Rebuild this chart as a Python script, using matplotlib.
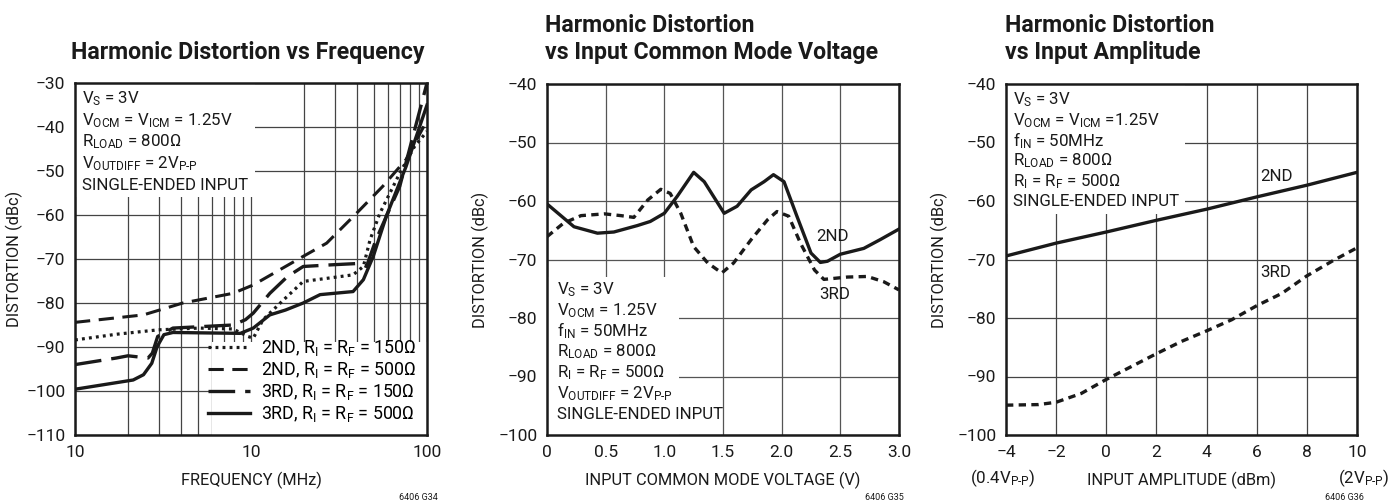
import matplotlib
matplotlib.use('Agg')
import matplotlib.pyplot as plt
from matplotlib.patches import Rectangle
from matplotlib.lines import Line2D

plt.rcParams['font.family'] = ['Roboto', 'DejaVu Sans']
plt.rcParams['mathtext.fontset'] = 'custom'
plt.rcParams['mathtext.rm'] = 'Roboto'
plt.rcParams['mathtext.it'] = 'Roboto'
plt.rcParams['mathtext.bf'] = 'Roboto:bold'

# ---- chart 1: distortion vs frequency ----
f_2nd150 = [1, 1.72, 2.97, 5.1, 7.9, 9.6, 10.3, 11.7, 15.3, 19.8, 26.9, 38, 43.5, 47.5, 54, 70, 85, 100]
d_2nd150 = [-88.4, -87.1, -86.1, -85.7, -85.9, -87.6, -88, -83.8, -79.3, -75.1, -74.4, -73.6, -71.7, -65.6, -59.6, -50.5, -44.4, -41]
f_2nd500 = [1, 2.45, 4.1, 7.9, 10.3, 19.8, 26.9, 39.8, 56, 76, 100]
d_2nd500 = [-84.4, -82.7, -80, -77.8, -75.9, -69.4, -66.4, -59.6, -53.5, -47.4, -38.5]
f_3rd150 = [1, 1.72, 2.0, 2.6, 2.75, 2.95, 3.6, 7.9, 9.3, 10.3, 12.8, 16.1, 19.8, 29.4, 41.6, 45.3, 51.3, 70, 100]
d_3rd150 = [-94, -92.5, -92, -92.5, -91.4, -87.6, -85.7, -85, -83.8, -82.3, -77.8, -74, -71.7, -71.3, -71, -71.7, -65.6, -53.5, -30]
f_3rd500 = [1, 2.14, 2.45, 2.73, 2.93, 3.2, 3.6, 8.7, 10.3, 12.8, 15.7, 19.8, 24.7, 38, 43.5, 49.5, 58.7, 76, 100]
d_3rd500 = [-99.6, -97.5, -96.3, -93.7, -89.9, -87.2, -86.7, -86.9, -85.7, -82.7, -81.6, -80, -78.1, -77.4, -74.7, -69.4, -60.3, -49, -35]

# ---- chart 2: distortion vs input common mode voltage ----
v_2nd = [0, 0.23, 0.43, 0.57, 0.77, 0.88, 1.0, 1.11, 1.25, 1.34, 1.51, 1.62, 1.74, 1.85, 1.93, 2.02, 2.13, 2.25, 2.33, 2.39, 2.5, 2.7, 2.84, 3.0]
d2_2nd = [-60.5, -64.4, -65.5, -65.3, -64.2, -63.5, -62.1, -59.2, -55.1, -56.7, -62.1, -60.9, -58.1, -56.7, -55.5, -56.7, -62.6, -68.9, -70.5, -70.3, -69.1, -68.1, -66.6, -64.8]
v_3rd = [0, 0.14, 0.29, 0.49, 0.63, 0.74, 0.86, 0.97, 1.05, 1.14, 1.25, 1.37, 1.49, 1.59, 1.74, 1.88, 1.96, 2.06, 2.16, 2.28, 2.36, 2.56, 2.73, 2.87, 3.0]
d2_3rd = [-66.1, -63.8, -62.5, -62.2, -62.5, -62.8, -59.8, -58, -58.7, -62.1, -67.8, -70.6, -72.3, -70.6, -66.6, -63.2, -61.8, -62.6, -67.2, -71.8, -73.4, -73.0, -72.9, -73.8, -75.2]

# ---- chart 3: distortion vs input amplitude ----
a_2nd = [-4, -2, 0, 2, 4, 6, 8, 10]
d3_2nd = [-69.4, -67.2, -65.3, -63.3, -61.4, -59.3, -57.3, -55.1]
a_3rd = [-4, -2.7, -2, -1, 0, 1, 2, 3, 4, 5, 6, 7, 8, 9, 10]
d3_3rd = [-94.9, -94.8, -94.4, -92.9, -90.5, -88.3, -86.1, -84.0, -82.2, -80.3, -77.9, -75.8, -72.8, -70.3, -68.0]

note1 = [r'V$_{\mathrm{S}}$ = 3V',
         r'V$_{\mathrm{OCM}}$ = V$_{\mathrm{ICM}}$ = 1.25V',
         r'R$_{\mathrm{LOAD}}$ = 800Ω',
         r'V$_{\mathrm{OUTDIFF}}$ = 2V$_{\mathrm{P\text{-}P}}$',
         'SINGLE-ENDED INPUT']
note2 = [r'V$_{\mathrm{S}}$ = 3V',
         r'V$_{\mathrm{OCM}}$ = 1.25V',
         r'f$_{\mathrm{IN}}$ = 50MHz',
         r'R$_{\mathrm{LOAD}}$ = 800Ω',
         r'R$_{\mathrm{I}}$ = R$_{\mathrm{F}}$ = 500Ω',
         r'V$_{\mathrm{OUTDIFF}}$ = 2V$_{\mathrm{P\text{-}P}}$',
         'SINGLE-ENDED INPUT']
note3 = [r'V$_{\mathrm{S}}$ = 3V',
         r'V$_{\mathrm{OCM}}$ = V$_{\mathrm{ICM}}$ =1.25V',
         r'f$_{\mathrm{IN}}$ = 50MHz',
         r'R$_{\mathrm{LOAD}}$ = 800Ω',
         r'R$_{\mathrm{I}}$ = R$_{\mathrm{F}}$ = 500Ω',
         'SINGLE-ENDED INPUT']

fig = plt.figure(figsize=(13.93, 5.04), dpi=100)
W, H = 1393, 504

def make_ax(x0, x1, y0, y1):
    return fig.add_axes([x0 / W, 1 - y1 / H, (x1 - x0) / W, (y1 - y0) / H])

ax1 = make_ax(75, 427, 83, 435)
ax2 = make_ax(547, 899, 84, 435)
ax3 = make_ax(1006, 1357, 84, 435)

fs = 12.5    # tick labels
nfs = 12.2   # notes / legend
lfs = 11.8   # axis labels
ink = '#1a1a1a'
for ax, ylx in ((ax1, -0.148), (ax2, -0.165), (ax3, -0.165)):
    ax.set_axisbelow(True)
    ax.tick_params(which='both', length=0, labelsize=fs, pad=7, colors=ink)
    for s in ax.spines.values():
        s.set_linewidth(1.8)
        s.set_color(ink)
    ax.set_ylabel('DISTORTION (dBc)', fontsize=lfs, color=ink)
    ax.yaxis.set_label_coords(ylx, 0.5)

def block(ax, x0, x1, y0, y1):
    ax.add_patch(Rectangle((x0, y0), x1 - x0, y1 - y0, transform=ax.transAxes,
                           facecolor='white', edgecolor='none', zorder=1.5))

def notes(ax, lines, x, ytop, step):
    for i, t in enumerate(lines):
        ax.text(x, ytop - i * step, t, transform=ax.transAxes, fontsize=nfs,
                va='center', ha='left', zorder=4, color=ink)

# chart 1
ax1.set_xscale('log')
ax1.set_xlim(1, 100)
ax1.set_ylim(-110, -30)
ax1.set_xticks([1, 10, 100])
ax1.set_xticklabels(['10', '10', '100'])
ax1.set_xticks([2, 3, 4, 5, 6, 7, 8, 9, 20, 30, 40, 50, 60, 70, 80, 90], minor=True)
ax1.xaxis.set_minor_formatter(plt.NullFormatter())
ax1.set_yticks(range(-110, -29, 10))
ax1.grid(which='both', color='#444444', linewidth=0.9)
ax1.plot(f_2nd150, d_2nd150, color=ink, lw=2.3, ls=(0, (0.9, 1.3)), zorder=3)
ax1.plot(f_2nd500, d_2nd500, color=ink, lw=2.2, ls=(0, (5, 2.8)), zorder=3)
ax1.plot(f_3rd150, d_3rd150, color=ink, lw=2.4, ls=(0, (8, 3)), zorder=3)
ax1.plot(f_3rd500, d_3rd500, color=ink, lw=2.4, ls='-', zorder=3)
block(ax1, 0, 0.51, 0.676, 1)
block(ax1, 0.39, 1, 0, 0.264)
notes(ax1, note1, 0.02, 0.955, 0.0615)
handles = [Line2D([], [], color=ink, lw=2.3, ls=(0, (0.9, 1.3))),
           Line2D([], [], color=ink, lw=2.2, ls=(0, (5, 2.8))),
           Line2D([], [], color=ink, lw=2.4, ls=(0, (8, 3))),
           Line2D([], [], color=ink, lw=2.4, ls='-')]
labels = [r'2ND, R$_{\mathrm{I}}$ = R$_{\mathrm{F}}$ = 150Ω',
          r'2ND, R$_{\mathrm{I}}$ = R$_{\mathrm{F}}$ = 500Ω',
          r'3RD, R$_{\mathrm{I}}$ = R$_{\mathrm{F}}$ = 150Ω',
          r'3RD, R$_{\mathrm{I}}$ = R$_{\mathrm{F}}$ = 500Ω']
leg = ax1.legend(handles, labels, loc='lower right', bbox_to_anchor=(1.0, 0.0),
                 frameon=False, fontsize=12.8, handlelength=2.4, handletextpad=0.6,
                 labelspacing=0.12, borderaxespad=0.2)
leg.set_zorder(4)
ax1.set_xlabel('FREQUENCY (MHz)', fontsize=lfs, labelpad=9, color=ink)

# chart 2
ax2.set_xlim(0, 3)
ax2.set_ylim(-100, -40)
ax2.set_xticks([0, 0.5, 1, 1.5, 2, 2.5, 3])
ax2.set_xticklabels(['0', '0.5', '1.0', '1.5', '2.0', '2.5', '3.0'])
ax2.set_yticks(range(-100, -39, 10))
ax2.grid(color='#555555', linewidth=0.9)
ax2.plot(v_2nd, d2_2nd, color=ink, lw=2.4, zorder=3)
ax2.plot(v_3rd, d2_3rd, color=ink, lw=2.4, ls=(0, (2.2, 1.6)), zorder=3)
block(ax2, 0, 0.375, 0, 0.45)
notes(ax2, note2, 0.028, 0.415, 0.0595)
ax2.text(2.43, -66.1, '2ND', fontsize=nfs, ha='center', va='center', zorder=4, color=ink)
ax2.text(2.45, -76.0, '3RD', fontsize=nfs, ha='center', va='center', zorder=4, color=ink)
ax2.set_xlabel('INPUT COMMON MODE VOLTAGE (V)', fontsize=lfs, labelpad=9, color=ink)

# chart 3
ax3.set_xlim(-4, 10)
ax3.set_ylim(-100, -40)
ax3.set_xticks(range(-4, 11, 2))
ax3.set_yticks(range(-100, -39, 10))
ax3.grid(color='#444444', linewidth=0.9)
ax3.plot(a_2nd, d3_2nd, color=ink, lw=2.4, zorder=3)
ax3.plot(a_3rd, d3_3rd, color=ink, lw=2.4, ls=(0, (2.2, 1.6)), zorder=3)
block(ax3, 0, 0.51, 0.63, 1)
notes(ax3, note3, 0.02, 0.955, 0.058)
ax3.text(6.77, -55.8, '2ND', fontsize=nfs, ha='center', va='center', zorder=4, color=ink)
ax3.text(6.77, -72.3, '3RD', fontsize=nfs, ha='center', va='center', zorder=4, color=ink)
ax3.set_xlabel('INPUT AMPLITUDE (dBm)', fontsize=lfs, labelpad=9, color=ink)
ax3.text(-0.01, -0.123, r'(0.4V$_{\mathrm{P\text{-}P}}$)', transform=ax3.transAxes,
         fontsize=nfs, ha='center', va='center', color=ink)
ax3.text(1.02, -0.123, r'(2V$_{\mathrm{P\text{-}P}}$)', transform=ax3.transAxes,
         fontsize=nfs, ha='center', va='center', color=ink)

# titles
tkw = dict(fontsize=16.7, fontweight='bold', color=ink)
fig.text(248 / W, 1 - 53 / H, 'Harmonic Distortion vs Frequency', ha='center', va='center', **tkw)
fig.text(545 / W, 1 - 25 / H, 'Harmonic Distortion', ha='left', va='center', **tkw)
fig.text(545 / W, 1 - 52 / H, 'vs Input Common Mode Voltage', ha='left', va='center', **tkw)
fig.text(1005 / W, 1 - 25 / H, 'Harmonic Distortion', ha='left', va='center', **tkw)
fig.text(1005 / W, 1 - 52 / H, 'vs Input Amplitude', ha='left', va='center', **tkw)

# part numbers
for x, t in ((418, '6406 G34'), (884, '6406 G35'), (1344, '6406 G36')):
    fig.text(x / W, 1 - 497 / H, t, fontsize=6.5, ha='center', va='center', color=ink)

fig.savefig('out.png', dpi=100)
